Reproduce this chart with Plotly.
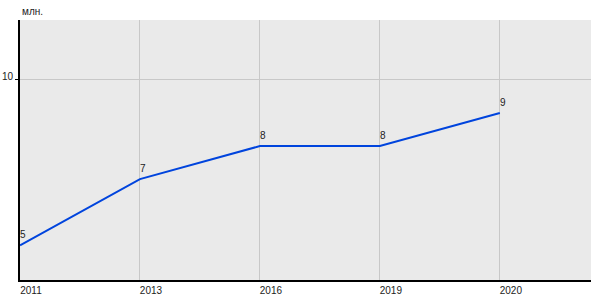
import plotly.graph_objects as go

years = ["2011", "2013", "2016", "2019", "2020"]
values = [5, 7, 8, 8, 9]
value_labels = ["5", "7", "8", "8", "9"]
unit_label = "млн."

fig = go.Figure()
fig.add_trace(go.Scatter(
    x=years, y=values, mode="lines",
    line=dict(color="#0044dd", width=2),
    cliponaxis=False, hoverinfo="skip", showlegend=False,
))

annotations = [dict(text=unit_label, xref="paper", yref="paper", x=0, y=1,
                    xanchor="left", yanchor="bottom", showarrow=False, yshift=1,
                    font=dict(size=10, color="#222"))]
for i, (v, lab) in enumerate(zip(values, value_labels)):
    annotations.append(dict(x=i, y=v, xref="x", yref="y", text=lab, showarrow=False,
                            xanchor="left", yanchor="bottom", yshift=3, xshift=-2,
                            font=dict(size=10, color="#222")))

fig.update_layout(
    width=600, height=300,
    margin=dict(l=20, r=9, t=20, b=20),
    paper_bgcolor="white", plot_bgcolor="#eaeaea",
    font=dict(family="Arial, Liberation Sans", size=10, color="#222"),
    annotations=annotations,
)
fig.update_xaxes(type="category", range=[0, 4.76], showgrid=True, gridcolor="#c8c8c8",
                 gridwidth=1, showline=True, linecolor="black", linewidth=2,
                 ticks="", ticklabelshift=11, tickfont=dict(size=10), zeroline=False,
                 automargin=False)
fig.update_yaxes(range=[3.95, 11.81], tickvals=[10], ticktext=["10"], showgrid=True,
                 gridcolor="#c8c8c8", gridwidth=1, showline=True, linecolor="black",
                 linewidth=2, ticks="outside", ticklen=3, tickcolor="black",
                 ticklabelstandoff=0, ticklabelshift=-3,
                 tickfont=dict(size=10), zeroline=False, automargin=False)

fig.write_html("out.html")
